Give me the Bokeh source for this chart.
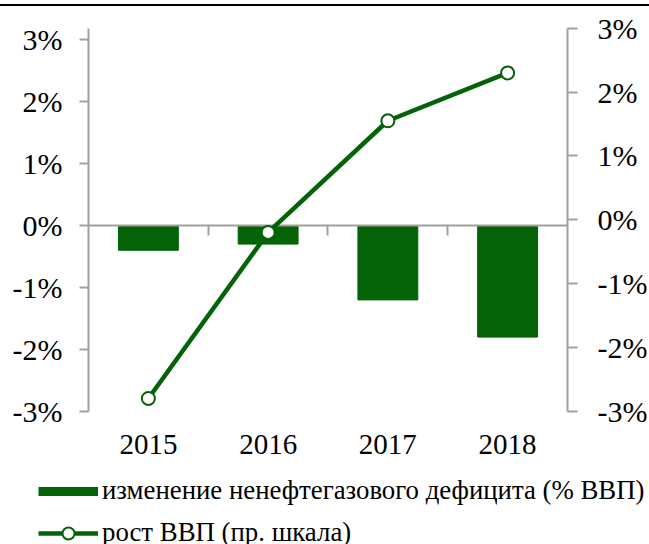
from bokeh.plotting import figure
from bokeh.models import (Range1d, LinearAxis, FixedTicker, Legend,
                          LegendItem, PrintfTickFormatter, ColumnDataSource)
from bokeh.embed import file_html
from bokeh.resources import INLINE

years = ["2015", "2016", "2017", "2018"]
deficit_change = [-0.4, -0.3, -1.2, -1.8]      # left axis, % of GDP
gdp_growth = [-2.8, -0.2, 1.55, 2.3]           # right axis, %
left_ticks = [-3, -2, -1, 0, 1, 2, 3]
right_ticks = [-3, -2, -1, 0, 1, 2, 3]
bar_label = "изменение ненефтегазового дефицита (% ВВП)"
line_label = "рост ВВП (пр. шкала)"

GREEN = "#046207"
GRAY = "#a0a0a0"
FONT = "Liberation Serif"

n = len(years)
xpos = [i + 0.5 for i in range(n)]        # category centres
src = ColumnDataSource(dict(x=xpos, year=years, deficit=deficit_change, gdp=gdp_growth))

# the frame covers the whole canvas; axes are placed at fixed data locations
p = figure(x_range=Range1d(-0.7349, n + 0.6848), y_range=Range1d(-5.145, 3.532),
           width=649, height=538, output_backend="svg", toolbar_location=None,
           x_axis_location=None, y_axis_location=None,
           min_border_left=0, min_border_right=0, min_border_top=0,
           min_border_bottom=0)
p.styles = {"border-top": "2px solid black", "margin-top": "4px"}
p.outline_line_color = None
p.xgrid.visible = False
p.ygrid.visible = False
p.background_fill_color = "white"
p.extra_y_ranges = {"right": Range1d(-5.088, 3.34)}

# category labels
xa = LinearAxis(fixed_location=min(left_ticks), ticker=FixedTicker(ticks=xpos),
                major_label_overrides={x: y for x, y in zip(xpos, years)},
                axis_line_color=None, major_tick_line_color=None,
                minor_tick_line_color=None, major_tick_out=0,
                major_label_standoff=23, major_label_text_font=FONT,
                major_label_text_font_size="29px", major_label_text_color="black")
p.add_layout(xa, "below")

# zero line with ticks between categories (no labels)
zero_axis = LinearAxis(fixed_location=0, bounds=(0, n),
                       ticker=FixedTicker(ticks=list(range(1, n))),
                       axis_line_color=GRAY, axis_line_width=2,
                       major_tick_line_color=GRAY, major_tick_line_width=2,
                       major_tick_out=10, major_tick_in=0,
                       minor_tick_line_color=None,
                       major_label_text_color=None, major_label_standoff=0)
p.add_layout(zero_axis, "below")

ya = LinearAxis(fixed_location=0, bounds=(min(left_ticks), 3.185),
                ticker=FixedTicker(ticks=left_ticks),
                formatter=PrintfTickFormatter(format="%d%%"),
                axis_line_color=GRAY, axis_line_width=2,
                major_tick_line_color=GRAY, major_tick_line_width=2,
                major_tick_out=9, major_tick_in=0, minor_tick_line_color=None,
                major_label_standoff=17, major_label_text_font=FONT,
                major_label_text_font_size="30px", major_label_text_color="black")
p.add_layout(ya, "left")

ra = LinearAxis(y_range_name="right", fixed_location=n,
                bounds=(min(right_ticks), max(right_ticks)),
                ticker=FixedTicker(ticks=right_ticks),
                formatter=PrintfTickFormatter(format="%d%%"),
                axis_line_color=GRAY, axis_line_width=2,
                major_tick_line_color=GRAY, major_tick_line_width=2,
                major_tick_out=10, major_tick_in=0, minor_tick_line_color=None,
                major_label_standoff=20, major_label_text_font=FONT,
                major_label_text_font_size="30px", major_label_text_color="black")
p.add_layout(ra, "right")

bars = p.vbar(x="x", top="deficit", bottom=0, width=0.5, source=src,
              fill_color=GREEN, line_color=GREEN)
ln = p.line(x="x", y="gdp", source=src, y_range_name="right",
            line_color=GREEN, line_width=4.5, level="overlay")
sc = p.scatter(x="x", y="gdp", source=src, y_range_name="right", size=13,
               fill_color="white", line_color=GREEN, line_width=2, level="overlay")

# legend swatch for bars: a one-point line (draws nothing in the plot,
# but gives a flat bar-shaped swatch in the legend)
bar_swatch = p.line(x=xpos[:1], y=deficit_change[:1], line_color=GREEN,
                    line_width=9, line_cap="butt")

legend = Legend(items=[LegendItem(label=bar_label, renderers=[bar_swatch]),
                       LegendItem(label=line_label, renderers=[ln, sc])],
                location=(38, -4), orientation="vertical",
                glyph_width=60, glyph_height=30, label_height=30,
                spacing=11, label_standoff=4, padding=0, margin=0,
                border_line_color=None, background_fill_alpha=0,
                label_text_font=FONT, label_text_font_size="26.8px",
                label_text_color="black")
p.add_layout(legend, "center")

open("out.html", "w").write(file_html(p, INLINE))
